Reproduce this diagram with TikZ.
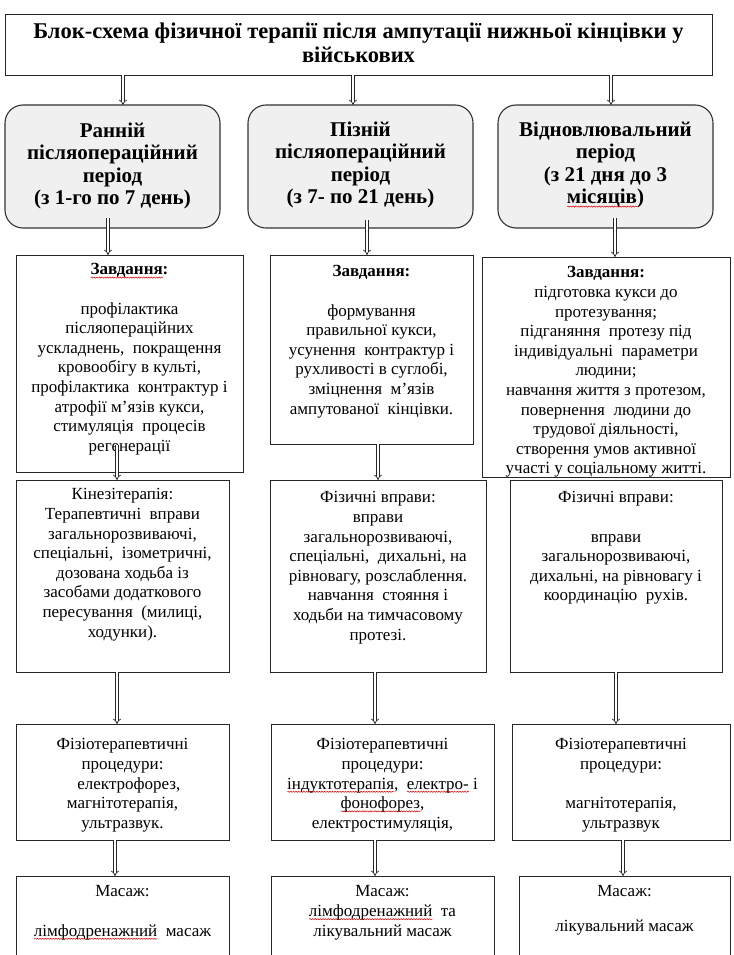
\documentclass[tikz,border=0pt]{standalone}
\usepackage{fontspec}
\setmainfont{Liberation Serif}
\usetikzlibrary{arrows.meta,calc,decorations.pathmorphing}
\newsavebox\sqbox
\newcommand\redsq[1]{\sbox\sqbox{#1}\rlap{\raisebox{-3.5pt}{\tikz[x=1pt,y=1pt]\draw[red!90!black,line width=0.5pt,decorate,decoration={snake,amplitude=0.6pt,segment length=2.6pt}] (0,0) -- (\the\wd\sqbox,0);}}\usebox\sqbox}
\begin{document}
\begin{tikzpicture}[x=1pt,y=-1pt,
 box/.style={draw=black!85, line width=0.8pt, inner sep=0pt, outer sep=0pt, anchor=north west},
 pbox/.style={draw=black!80, fill=black!6, line width=1.1pt, rounded corners=18pt, inner sep=0pt, outer sep=0pt, anchor=north west},
 body/.style={font=\fontsize{17}{19.6}\selectfont, align=center, inner sep=0pt, anchor=north, text=black},
 head/.style={font=\bfseries\fontsize{21}{22.5}\selectfont, align=center, inner sep=0pt, anchor=north, text=black},
 thead/.style={font=\bfseries\fontsize{22.5}{24}\selectfont, align=center, inner sep=0pt, anchor=north, text=black},
 arr/.style={draw=black!85, line width=0.7pt, double=white, double distance=2pt, -{Implies}}
]
\useasboundingbox (0,0) rectangle (733,955);
\fill[white] (0,0) rectangle (733,955);
\clip (0,0) rectangle (733,955);

% title
\node[box, minimum width=707pt, minimum height=61pt] (title) at (5,14) {};
\node[thead] (titletx) at (358.5,22) {\strut Блок-схема фізичної терапії після ампутації нижньої кінцівки у\\військових};

% periods
\node[pbox, minimum width=215pt, minimum height=123pt] (p1) at (5,105) {};
\node[pbox, minimum width=225pt, minimum height=123pt] (p2) at (248,105) {};
\node[pbox, minimum width=215pt, minimum height=123pt] (p3) at (498,105) {};
\node[head] (p1tx) at (112.5,121.5) {\strut Ранній\\післяопераційний\\період\\(з 1-го по 7 день)};
\node[head] (p2tx) at (360.5,120.5) {\strut Пізній\\післяопераційний\\період\\(з 7- по 21 день)};
\node[head] (p3tx) at (605.5,120.5) {\strut Відновлювальний\\період\\(з 21 дня до 3\\\redsq{місяців})};

% tasks
\node[box, minimum width=227pt, minimum height=217pt] (t1) at (16,255) {};
\node[box, minimum width=203pt, minimum height=189pt] (t2) at (270,255) {};
\node[box, minimum width=248pt, minimum height=220pt] (t3) at (482,257) {};
\node[body] (t1tx) at (129.5,261) {\strut\textbf{\redsq{Завдання}:}\\[19.6pt]профілактика\\післяопераційних\\ускладнень,\ \ покращення\\кровообігу в культі,\\профілактика\ \ контрактур і\\атрофії м’язів кукси,\\стимуляція\ \ процесів\\регенерації};
\node[body] (t2tx) at (371.5,263) {\strut\textbf{Завдання:}\\[19.6pt]формування\\правильної кукси,\\усунення\ \ контрактур і\\рухливості в суглобі,\\зміцнення\ \ м’язів\\ампутованої\ \ кінцівки.};
\node[body] (t3tx) at (606,264) {\strut\textbf{Завдання:}\\підготовка кукси до\\протезування;\\підганяння\ \ протезу під\\індивідуальні\ \ параметри\\людини;\\навчання життя з протезом,\\повернення\ \ людини до\\трудової діяльності,\\створення умов активної\\участі у соціальному житті.};

% exercises
\node[box, minimum width=213pt, minimum height=192pt] (k1) at (16,480) {};
\node[box, minimum width=216pt, minimum height=192pt] (k2) at (270,480) {};
\node[box, minimum width=212pt, minimum height=192pt] (k3) at (510,480) {};
\node[body] (k1tx) at (122.5,486) {\strut Кінезітерапія:\\Терапевтичні\ \ вправи\\загальнорозвиваючі,\\спеціальні,\ \ ізометричні,\\дозована ходьба із\\засобами додаткового\\пересування\ \ (милиці,\\ходунки).};
\node[body] (k2tx) at (378,489) {\strut Фізичні вправи:\\вправи\\загальнорозвиваючі,\\спеціальні,\ \ дихальні, на\\рівновагу, розслаблення.\\навчання\ \ стояння і\\ходьби на тимчасовому\\протезі.};
\node[body] (k3tx) at (616,489) {\strut Фізичні вправи:\\[19.6pt]вправи\\загальнорозвиваючі,\\дихальні, на рівновагу і\\координацію\ \ рухів.};

% physiotherapy
\node[box, minimum width=213pt, minimum height=116pt] (f1) at (16,724) {};
\node[box, minimum width=223pt, minimum height=116pt] (f2) at (271,724) {};
\node[box, minimum width=218pt, minimum height=116pt] (f3) at (512,724) {};
\node[body] (f1tx) at (122.5,736) {\strut Фізіотерапевтичні\\процедури:\ \ \\\ \ \ електрофорез,\\магнітотерапія,\\ультразвук.};
\node[body] (f2tx) at (382.5,736) {\strut Фізіотерапевтичні\\процедури:\\\redsq{індуктотерапія},\ \ \redsq{електро-} і\\\redsq{фонофорез},\\електростимуляція,};
\node[body] (f3tx) at (621,736) {\strut Фізіотерапевтичні\\процедури:\\[19.6pt]магнітотерапія,\\ультразвук};

% massage
\node[box, minimum width=213pt, minimum height=120pt] (m1) at (16,876) {};
\node[box, minimum width=223pt, minimum height=120pt] (m2) at (271,876) {};
\node[box, minimum width=211pt, minimum height=120pt] (m3) at (519,876) {};
\node[body] (m1tx) at (122.5,883) {\strut Масаж:\\[19.6pt]\redsq{лімфодренажний}\ \ масаж};
\node[body] (m2tx) at (382.5,883) {\strut Масаж:\\\redsq{лімфодренажний}\ \ та\\лікувальний масаж};
\node[body] (m3tx) at (624.5,883) {\strut Масаж:\\[15pt]лікувальний масаж};

% arrow columns
\coordinate (xa1) at (123,0);
\coordinate (xa2) at (353,0);
\coordinate (xa3) at (611,0);
\coordinate (xb1) at (108,0);
\coordinate (xb2) at (367,0);
\coordinate (xb3) at (615,0);
\coordinate (xc1) at (117,0);
\coordinate (xc2) at (378,0);
\coordinate (xd1) at (117,0);
\coordinate (xd2) at (375,0);
\coordinate (xd3) at (616,0);
\coordinate (xe1) at (115,0);
\coordinate (xe2) at (375,0);
\coordinate (xe3) at (623,0);

\draw[arr] (title.south -| xa1) -- (p1.north -| xa1);
\draw[arr] (title.south -| xa2) -- (p2.north -| xa2);
\draw[arr] (title.south -| xa3) -- (p3.north -| xa3);
\draw[arr] ($(p1.south -| xb1)+(0,-10)$) -- (t1.north -| xb1);
\draw[arr] ($(p2.south -| xb2)+(0,-8)$) -- (t2.north -| xb2);
\draw[arr] ($(p3.south -| xb3)+(0,-10)$) -- (t3.north -| xb3);
\draw[arr] ($(t1.south -| xc1)+(0,-27)$) -- (k1.north -| xc1);
\draw[arr] (t2.south -| xc2) -- (k2.north -| xc2);
\draw[arr] (k1.south -| xd1) -- (f1.north -| xd1);
\draw[arr] (k2.south -| xd2) -- (f2.north -| xd2);
\draw[arr] (k3.south -| xd3) -- (f3.north -| xd3);
\draw[arr] (f1.south -| xe1) -- (m1.north -| xe1);
\draw[arr] (f2.south -| xe2) -- (m2.north -| xe2);
\draw[arr] (f3.south -| xe3) -- (m3.north -| xe3);
\end{tikzpicture}
\end{document}
